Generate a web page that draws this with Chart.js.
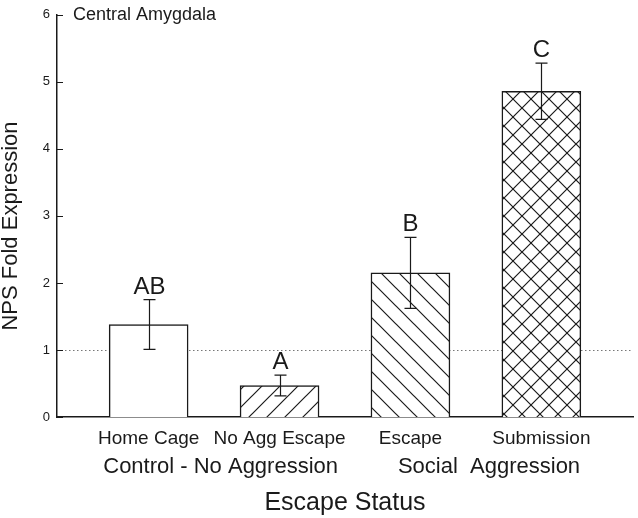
<!DOCTYPE html>
<html><head><meta charset="utf-8">
<script src="https://cdn.jsdelivr.net/npm/chart.js@4"></script>
<style>html,body{margin:0;padding:0;background:#fff}#wrap{width:638px;height:518px}</style>
</head><body><div id="wrap"><canvas id="c" width="638" height="518"></canvas></div>
<script>
const categories = ['Home Cage', 'No Agg Escape', 'Escape', 'Submission'];
const positions = [1, 2, 3, 4];
const means = [1.38, 0.47, 2.15, 4.86];
const errors = [0.37, 0.155, 0.53, 0.42];
const letters = ['AB', 'A', 'B', 'C'];
const fills = ['none', 'forward', 'back', 'cross'];
const groupLabels = ['Control - No Aggression', 'Social  Aggression'];
const groupPositions = [1.55, 3.6];
const yTicks = [0, 1, 2, 3, 4, 5, 6];
const refLine = 1;
const panelLabel = 'Central Amygdala';
const yTitle = 'NPS Fold Expression';
const xTitle = 'Escape Status';

const INK = '#1a1a1a';
const FONT = "'Liberation Sans', Arial, sans-serif";

function makePattern(kind) {
  if (kind === 'none') return '#ffffff';
  const p = 18;
  const t = document.createElement('canvas');
  t.width = p; t.height = p;
  const g = t.getContext('2d');
  g.fillStyle = '#fff'; g.fillRect(0, 0, p, p);
  g.strokeStyle = INK; g.lineWidth = 1.2;
  const fwd = () => { g.beginPath(); g.moveTo(-2, p + 2); g.lineTo(p + 2, -2); g.moveTo(-2, 2); g.lineTo(2, -2); g.moveTo(p - 2, p + 2); g.lineTo(p + 2, p - 2); g.stroke(); };
  const bck = () => { g.beginPath(); g.moveTo(-2, -2); g.lineTo(p + 2, p + 2); g.moveTo(p - 2, -2); g.lineTo(p + 2, 2); g.moveTo(-2, p - 2); g.lineTo(2, p + 2); g.stroke(); };
  if (kind === 'forward' || kind === 'cross') fwd();
  if (kind === 'back' || kind === 'cross') bck();
  return g.createPattern(t, 'repeat');
}

const decor = {
  id: 'decor',
  beforeDatasetsDraw(chart) {
    const {ctx, chartArea: a, scales: {y}} = chart;
    const py = Math.round(y.getPixelForValue(refLine)) + 0.5;
    ctx.save();
    ctx.strokeStyle = '#777'; ctx.lineWidth = 1; ctx.setLineDash([1.5, 2.5]);
    ctx.beginPath(); ctx.moveTo(a.left, py); ctx.lineTo(a.right, py); ctx.stroke();
    ctx.restore();
  },
  afterDatasetsDraw(chart) {
    const {ctx, scales: {x, y}} = chart;
    ctx.save();
    ctx.strokeStyle = INK; ctx.lineWidth = 1.2;
    ctx.fillStyle = INK;
    ctx.font = '24px ' + FONT; ctx.textAlign = 'center'; ctx.textBaseline = 'alphabetic';
    positions.forEach((pos, i) => {
      const cx = Math.round(x.getPixelForValue(pos)) + 0.5;
      const top = y.getPixelForValue(means[i] + errors[i]);
      const bot = y.getPixelForValue(means[i] - errors[i]);
      ctx.beginPath();
      ctx.moveTo(cx, top); ctx.lineTo(cx, bot);
      ctx.moveTo(cx - 6, top); ctx.lineTo(cx + 6, top);
      ctx.moveTo(cx - 6, bot); ctx.lineTo(cx + 6, bot);
      ctx.stroke();
      ctx.fillText(letters[i], cx, top - 6);
    });
    ctx.restore();
  },
  afterDraw(chart) {
    const {ctx, chartArea: a, scales: {x, y}} = chart;
    ctx.save();
    ctx.strokeStyle = INK; ctx.lineWidth = 1.2;
    ctx.beginPath();
    y.ticks.forEach(t => {
      const py = Math.round(y.getPixelForValue(t.value)) + 0.5;
      ctx.moveTo(a.left, py); ctx.lineTo(a.left + 6, py);
    });
    ctx.stroke();
    ctx.fillStyle = INK;
    ctx.font = '22px ' + FONT; ctx.textAlign = 'center'; ctx.textBaseline = 'middle';
    groupLabels.forEach((g, i) => ctx.fillText(g, x.getPixelForValue(groupPositions[i]), 467));
    ctx.font = '18px ' + FONT; ctx.textAlign = 'left'; ctx.textBaseline = 'alphabetic';
    ctx.fillText(panelLabel, a.left + 16, 20);
    ctx.translate(11, 226); ctx.rotate(-Math.PI / 2);
    ctx.font = '22px ' + FONT; ctx.textAlign = 'center'; ctx.textBaseline = 'middle';
    ctx.fillText(yTitle, 0, 0);
    ctx.restore();
  }
};

new Chart(document.getElementById('c'), {
  type: 'bar',
  data: {
    datasets: [{
      data: positions.map((p, i) => ({x: p, y: means[i]})),
      backgroundColor: fills.map(makePattern),
      borderColor: INK,
      borderWidth: 1.5,
      barThickness: 79
    }]
  },
  options: {
    responsive: false,
    animation: false,
    devicePixelRatio: 1,
    layout: {padding: {left: 0, right: 5, top: 12, bottom: 0}},
    plugins: {legend: {display: false}, tooltip: {enabled: false}},
    scales: {
      x: {
        type: 'linear', min: 0.3, max: 4.7, offset: false,
        afterBuildTicks: s => { s.ticks = positions.map(v => ({value: v})); },
        afterFit: s => { s.height = 101; },
        grid: {display: false, drawTicks: false, offset: false},
        border: {display: true, color: INK, width: 1.5},
        ticks: {
          color: INK, padding: 10, maxRotation: 0, autoSkip: false,
          font: {family: FONT, size: 19},
          callback: v => categories[positions.indexOf(v)] ?? ''
        },
        title: {display: true, text: xTitle, color: INK, font: {family: FONT, size: 25}, padding: {top: 0, bottom: 0}}
      },
      y: {
        min: 0, max: 6,
        afterBuildTicks: s => { s.ticks = yTicks.map(v => ({value: v})); },
        afterFit: s => { s.width = 57; },
        grid: {display: false, drawTicks: false},
        border: {display: true, color: INK, width: 1.5},
        ticks: {color: INK, padding: 7, font: {family: FONT, size: 13}}
      }
    }
  },
  plugins: [decor]
});
</script>
</body></html>
